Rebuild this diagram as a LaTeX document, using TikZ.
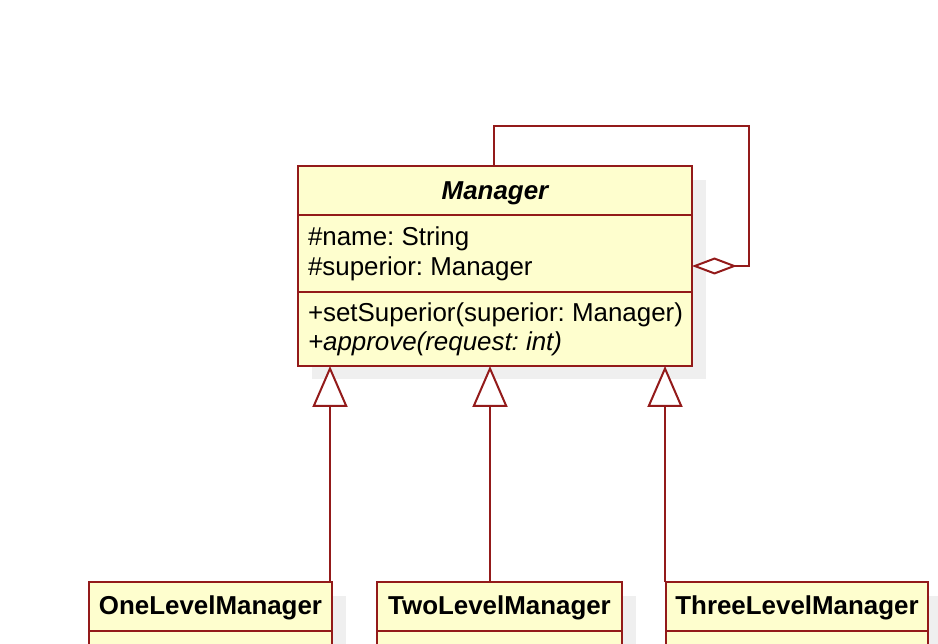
\documentclass[tikz,border=0pt]{standalone}
\usepackage{fontspec}
\setmainfont{Liberation Sans}
\usetikzlibrary{arrows.meta}
\frenchspacing
\definecolor{umlborder}{HTML}{931A1A}
\definecolor{umlfill}{HTML}{FEFECE}
\definecolor{umlshadow}{HTML}{EFEFEF}
\tikzset{
  comp/.style={draw=umlborder, fill=umlfill, line width=2pt, inner sep=0pt, outer sep=0pt, minimum height=#1},
  txt/.style={inner sep=0pt, outer sep=0pt, anchor=base west, font=\fontsize{25.9}{30}\selectfont},
  ttl/.style={inner sep=0pt, outer sep=0pt, anchor=base, font=\fontsize{25.9}{30}\selectfont\bfseries},
  conn/.style={draw=umlborder, line width=2pt},
  gen/.style={conn, -{Triangle[length=41pt, width=35pt, fill=white, line join=miter]}},
  agg/.style={conn, {Diamond[length=45pt, width=17pt, fill=white, line join=miter]}-}
}
\begin{document}
\frenchspacing
\begin{tikzpicture}[x=1pt, y=-1pt]
\useasboundingbox (0,0) rectangle (938,644);
\clip (0,0) rectangle (938,644);
\fill[white] (0,0) rectangle (938,644);
% shadows
\fill[umlshadow] (312,180) rectangle (706,379);
\fill[umlshadow] (103,596) rectangle (346,700);
\fill[umlshadow] (391,596) rectangle (636,700);
\fill[umlshadow] (680,596) rectangle (942,700);
% Manager class
\node[comp=49pt, minimum width=394pt] (mgrH) at (495,190.5) {};
\node[comp=77pt, minimum width=394pt] (mgrA) at (495,253.5) {};
\node[comp=74pt, minimum width=394pt] (mgrM) at (495,329) {};
\node[ttl, font=\fontsize{25.9}{30}\selectfont\bfseries\itshape] (mgrT) at (495,200) {Manager};
\node[txt] (a1) at (308,246) {\#name: String};
\node[txt] (a2) at (308,276) {\#superior: Manager};
\node[txt] (m1) at (308,322) {+setSuperior(superior: Manager)};
\node[txt] (m2) at (308,351) {\itshape +approve(request: int)};
% subclasses
\node[comp=49pt, minimum width=243pt] (oneH) at (210.5,606.5) {};
\node[comp=49pt, minimum width=243pt] (oneB) at (210.5,655.5) {};
\node[ttl] (oneT) at (210.5,614.5) {OneLevelManager};
\node[comp=49pt, minimum width=245pt] (twoH) at (499.5,606.5) {};
\node[comp=49pt, minimum width=245pt] (twoB) at (499.5,655.5) {};
\node[ttl] (twoT) at (499.5,614.5) {TwoLevelManager};
\node[comp=49pt, minimum width=262pt] (threeH) at (797,606.5) {};
\node[comp=49pt, minimum width=262pt] (threeB) at (797,655.5) {};
\node[ttl] (threeT) at (797,614.5) {ThreeLevelManager};
% generalizations
\draw[gen] (oneH.north -| 330,0) -- (mgrM.south -| 330,0);
\draw[gen] (twoH.north -| 490,0) -- (mgrM.south -| 490,0);
\draw[gen] (threeH.north -| 665,0) -- (mgrM.south -| 665,0);
% self aggregation
\coordinate (loopA) at (749,266);
\coordinate (loopB) at (749,126);
\coordinate (loopC) at (494,126);
\draw[agg] (mgrA.east |- loopA) -- (loopA) -- (loopB) -- (loopC) -- (mgrH.north -| loopC);
\end{tikzpicture}
\end{document}
